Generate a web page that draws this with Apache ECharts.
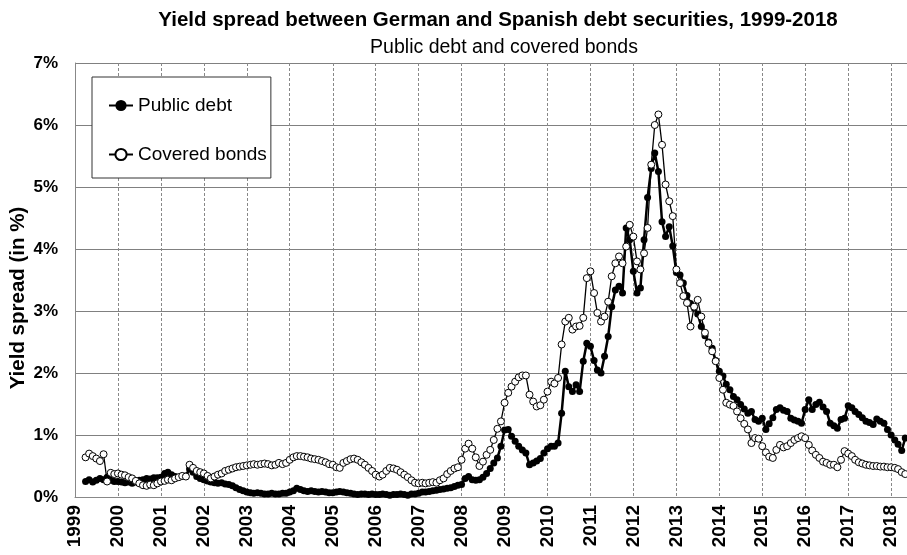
<!DOCTYPE html>
<html>
<head>
<meta charset="utf-8">
<script src="https://cdn.jsdelivr.net/npm/echarts@6/dist/echarts.min.js"></script>
<style>html,body{margin:0;padding:0;background:#fff}#chart{width:907px;height:555px}</style>
</head>
<body>
<div id="chart"></div>
<script>
// Monthly observations, first one April 1999
const startYear = 1999, startMonth = 4;
const seriesNames = ['Public debt', 'Covered bonds'];
const yTicks = [0, 1, 2, 3, 4, 5, 6, 7];
const yAxisTitle = 'Yield spread (in %)';

// Public debt spread (%)
const pd1999_2003 = [
  0.25,0.28,0.24,0.27,0.30,0.28,0.32,0.27,0.25,
  0.25,0.24,0.23,0.24,0.22,0.24,0.27,0.28,0.30,0.29,0.31,0.31,
  0.32,0.38,0.40,0.36,0.33,0.32,0.33,0.34,0.45,0.40,0.33,0.30,
  0.28,0.26,0.24,0.23,0.22,0.23,0.21,0.20,0.18,0.15,0.12,0.10,
  0.08,0.07,0.06,0.07,0.06,0.05,0.05,0.06,0.05,0.05,0.06,0.06
];
const pd2004_2008 = [
  0.08,0.10,0.14,0.12,0.10,0.09,0.10,0.09,0.08,0.09,0.08,0.07,
  0.07,0.08,0.09,0.08,0.07,0.06,0.05,0.04,0.05,0.05,0.04,0.05,
  0.04,0.04,0.05,0.04,0.03,0.04,0.04,0.05,0.04,0.03,0.05,0.05,
  0.06,0.08,0.08,0.09,0.10,0.11,0.12,0.13,0.14,0.15,0.17,0.19,
  0.20,0.30,0.33,0.28,0.27,0.28,0.32,0.38,0.46,0.55,0.63,0.82
];
const pd2009_2013 = [
  1.08,1.09,0.98,0.90,0.82,0.76,0.71,0.52,0.55,0.58,0.62,0.71,
  0.78,0.82,0.82,0.87,1.35,2.03,1.78,1.70,1.81,1.70,2.19,2.48,
  2.43,2.20,2.05,2.00,2.27,2.59,3.07,3.34,3.40,3.29,4.34,4.15,
  3.64,3.29,3.37,4.15,4.83,5.30,5.55,5.25,4.44,4.20,4.36,4.05,
  3.62,3.58,3.45,3.25,3.12,3.05,2.95,2.75,2.60,2.50,2.40,2.20
];
const pd2014_2018 = [
  2.03,1.95,1.82,1.73,1.62,1.57,1.49,1.42,1.35,1.38,1.25,1.22,
  1.27,1.09,1.18,1.28,1.41,1.44,1.40,1.38,1.27,1.24,1.22,1.19,
  1.41,1.57,1.41,1.49,1.53,1.45,1.38,1.19,1.15,1.11,1.25,1.27,
  1.47,1.44,1.38,1.33,1.28,1.22,1.20,1.17,1.26,1.22,1.19,1.09,
  1.00,0.92,0.85,0.75,0.95
];

// Covered bonds spread (%)
const cb1999_2003 = [
  0.64,0.70,0.66,0.62,0.58,0.69,0.25,0.39,0.37,
  0.38,0.36,0.35,0.32,0.30,0.26,0.22,0.19,0.18,0.20,0.19,0.22,
  0.25,0.26,0.28,0.27,0.30,0.32,0.34,0.33,0.52,0.47,0.42,0.40,
  0.38,0.34,0.30,0.33,0.36,0.38,0.42,0.44,0.46,0.48,0.49,0.50,
  0.51,0.52,0.53,0.52,0.53,0.54,0.53,0.51,0.52,0.55,0.53,0.55
];
const cb2004_2008 = [
  0.60,0.64,0.66,0.66,0.65,0.64,0.62,0.61,0.60,0.58,0.56,0.53,
  0.52,0.48,0.47,0.55,0.58,0.61,0.62,0.60,0.56,0.52,0.47,0.42,
  0.36,0.33,0.36,0.42,0.47,0.46,0.44,0.40,0.36,0.32,0.27,0.23,
  0.22,0.23,0.22,0.23,0.24,0.23,0.27,0.30,0.37,0.42,0.46,0.48,
  0.60,0.78,0.86,0.78,0.64,0.50,0.57,0.68,0.76,0.92,1.10,1.22
];
const cb2009_2013 = [
  1.52,1.68,1.78,1.86,1.93,1.96,1.96,1.65,1.54,1.46,1.48,1.57,
  1.70,1.86,1.83,1.92,2.46,2.83,2.89,2.70,2.75,2.76,2.89,3.53,
  3.64,3.29,2.97,2.83,2.91,3.15,3.56,3.77,3.88,3.77,4.04,4.39,
  4.20,3.80,3.67,3.93,4.34,5.36,6.00,6.17,5.68,5.04,4.77,4.53,
  3.67,3.45,3.24,3.13,2.75,3.07,3.18,2.91,2.65,2.48,2.35,2.19
];
const cb2014_2018 = [
  1.92,1.73,1.52,1.49,1.47,1.38,1.27,1.18,1.09,0.87,0.95,0.94,
  0.82,0.72,0.65,0.63,0.76,0.84,0.80,0.82,0.87,0.92,0.95,0.98,
  0.95,0.84,0.75,0.68,0.63,0.57,0.55,0.52,0.52,0.48,0.60,0.74,
  0.70,0.66,0.60,0.56,0.54,0.52,0.51,0.50,0.50,0.49,0.49,0.48,
  0.48,0.47,0.45,0.40,0.37
];

const publicDebt = [].concat(pd1999_2003, pd2004_2008, pd2009_2013, pd2014_2018);
const coveredBonds = [].concat(cb1999_2003, cb2004_2008, cb2009_2013, cb2014_2018);

function pad(n){ return (n < 10 ? '0' : '') + n; }
const months = publicDebt.map(function(_, i){
  const k = startMonth - 1 + i;
  return (startYear + Math.floor(k / 12)) + '-' + pad(k % 12 + 1) + '-01';
});
function pairs(vals){ return vals.map(function(v, i){ return [months[i], v]; }); }

const FONT = 'Liberation Sans, Arial, sans-serif';
const ONE_YEAR = 365 * 24 * 3600 * 1000;
const chart = echarts.init(document.getElementById('chart'), null, {renderer: 'canvas'});
chart.setOption({
  animation: false,
  backgroundColor: '#fff',
  textStyle: {fontFamily: FONT},
  title: [
    {text: 'Yield spread between German and Spanish debt securities, 1999-2018',
     left: 493, top: 5, textAlign: 'center',
     textStyle: {fontSize: 20.5, fontWeight: 'bold', color: '#000', fontFamily: FONT}},
    {text: 'Public debt and covered bonds',
     left: 499, top: 33, textAlign: 'center',
     textStyle: {fontSize: 19.5, fontWeight: 'normal', color: '#000', fontFamily: FONT}}
  ],
  graphic: [{
    type: 'text', x: 18, y: 298, rotation: Math.PI / 2, z: 10,
    style: {text: yAxisTitle, font: 'bold 20.5px ' + FONT, fill: '#000',
            textAlign: 'center', textVerticalAlign: 'middle'}
  }],
  legend: {
    data: seriesNames,
    orient: 'vertical',
    left: 92, top: 77,
    padding: [19, 4, 14, 16],
    itemGap: 30,
    itemWidth: 24, itemHeight: 14,
    borderColor: '#333', borderWidth: 1,
    backgroundColor: '#fff',
    textStyle: {fontSize: 19, color: '#000', fontFamily: FONT}
  },
  grid: {left: 75, right: 0, top: 63, bottom: 58, containLabel: false, outerBoundsMode: 'none'},
  xAxis: {
    type: 'time',
    min: '1999-01-01', max: '2018-05-16',
    splitNumber: 20, minInterval: ONE_YEAR, maxInterval: ONE_YEAR,
    axisLine: {show: true, lineStyle: {color: '#888', width: 1}},
    axisTick: {show: false},
    axisLabel: {rotate: 90, formatter: '{yyyy}', fontSize: 19, fontWeight: 'bold', color: '#000', margin: 8,
                fontFamily: FONT},
    splitLine: {show: true, lineStyle: {type: [3, 2], color: '#888', width: 1}}
  },
  yAxis: {
    type: 'value', min: yTicks[0], max: yTicks[yTicks.length - 1], interval: 1,
    axisLine: {show: true, lineStyle: {color: '#888', width: 1}},
    axisTick: {show: false},
    axisLabel: {formatter: '{value}%', fontSize: 17, fontWeight: 'bold', color: '#000', margin: 17,
                fontFamily: FONT},
    splitLine: {show: true, lineStyle: {color: '#808080', width: 1.2}}
  },
  series: [
    {name: seriesNames[0], type: 'line', data: pairs(publicDebt),
     symbol: 'circle', symbolSize: 7, showAllSymbol: true,
     itemStyle: {color: '#000'}, lineStyle: {color: '#000', width: 2.5}, z: 2},
    {name: seriesNames[1], type: 'line', data: pairs(coveredBonds),
     symbol: 'circle', symbolSize: 7, showAllSymbol: true,
     itemStyle: {color: '#fff', borderColor: '#000', borderWidth: 1},
     lineStyle: {color: '#000', width: 1.3}, z: 3}
  ]
});
</script>
</body>
</html>
